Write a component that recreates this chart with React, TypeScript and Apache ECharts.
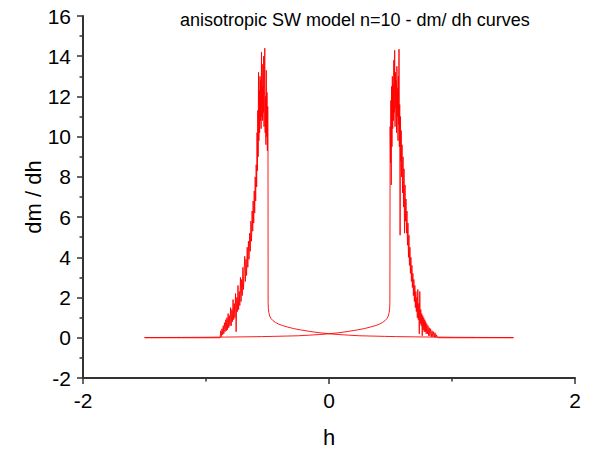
import React, { useEffect, useRef } from "react";
import * as echarts from "echarts";

// Branch A: baseline, noisy rise to the left peak, drop, decaying tail to the right
const branchABaseline: number[][] = [
  [-1.5, 0.0], [-1.2, 0.0], [-1.0, 0.0], [-0.886, 0.0],
];
const branchANoise: number[][] = [
  [-0.880, 0.35], [-0.876, 0.05], [-0.870, 0.45], [-0.865, 0.15], [-0.860, 0.6], [-0.855, 0.2],
  [-0.850, 0.75], [-0.845, 0.3], [-0.840, 0.9], [-0.835, 0.35], [-0.830, 1.0], [-0.825, 0.4],
  [-0.820, 1.2], [-0.815, 0.5], [-0.810, 1.1], [-0.805, 0.6], [-0.800, 1.5], [-0.795, 0.6],
  [-0.790, 1.4], [-0.785, 0.8], [-0.780, 1.9], [-0.775, 0.9], [-0.770, 1.7], [-0.765, 1.0],
  [-0.760, 2.2], [-0.755, 0.3], [-0.750, 2.0], [-0.745, 1.3], [-0.740, 2.6], [-0.735, 1.4],
  [-0.730, 2.3], [-0.725, 1.6], [-0.720, 3.0], [-0.715, 1.8], [-0.710, 2.9], [-0.705, 2.1],
  [-0.700, 3.5], [-0.695, 2.4], [-0.690, 3.3], [-0.685, 4.05], [-0.680, 2.8], [-0.675, 3.9],
  [-0.670, 3.1], [-0.665, 4.5], [-0.660, 3.5], [-0.655, 4.8], [-0.650, 3.9], [-0.645, 5.2],
  [-0.640, 4.3], [-0.635, 5.8], [-0.630, 4.8], [-0.625, 6.3], [-0.620, 5.3], [-0.617, 6.8],
  [-0.612, 5.7], [-0.608, 7.3], [-0.604, 6.2], [-0.600, 8.0], [-0.596, 6.8], [-0.592, 8.6],
  [-0.588, 7.5], [-0.585, 10.2], [-0.582, 8.3], [-0.579, 11.3], [-0.576, 9.0], [-0.573, 13.2],
  [-0.570, 9.8], [-0.567, 12.3], [-0.564, 10.2], [-0.561, 13.0], [-0.558, 10.8], [-0.555, 12.8],
  [-0.552, 10.4], [-0.549, 14.2], [-0.546, 11.0], [-0.543, 13.6], [-0.540, 10.8], [-0.537, 12.5],
  [-0.534, 11.2], [-0.531, 14.0], [-0.528, 10.5], [-0.525, 13.0], [-0.522, 14.4], [-0.519, 10.2],
  [-0.516, 12.0], [-0.513, 9.6], [-0.510, 13.3], [-0.507, 10.0], [-0.504, 12.2], [-0.501, 9.3],
  [-0.498, 11.5], [-0.496, 10.0],
];
const branchATail: number[][] = [
  [-0.495, 1.75], [-0.493, 1.45], [-0.489, 1.25], [-0.482, 1.08], [-0.470, 0.95], [-0.455, 0.85],
  [-0.435, 0.76], [-0.410, 0.68], [-0.380, 0.61], [-0.340, 0.54], [-0.290, 0.46], [-0.230, 0.39],
  [-0.160, 0.32], [-0.080, 0.25], [0.0, 0.2], [0.08, 0.16], [0.16, 0.13], [0.25, 0.1],
  [0.35, 0.085], [0.45, 0.07], [0.55, 0.058], [0.70, 0.045], [0.85, 0.035], [1.0, 0.025],
  [1.2, 0.018], [1.5, 0.01],
];

// Branch B: decaying tail on the left, drop, noisy peak on the right, baseline
const branchBTail: number[][] = [
  [-1.5, 0.01], [-1.2, 0.018], [-1.0, 0.025], [-0.85, 0.035], [-0.70, 0.045], [-0.55, 0.058],
  [-0.45, 0.07], [-0.35, 0.085], [-0.25, 0.1], [-0.16, 0.13], [-0.08, 0.16], [0.0, 0.2],
  [0.08, 0.25], [0.16, 0.32], [0.23, 0.39], [0.29, 0.46], [0.34, 0.54], [0.38, 0.61],
  [0.41, 0.68], [0.435, 0.76], [0.455, 0.85], [0.47, 0.95], [0.482, 1.08], [0.489, 1.25],
  [0.493, 1.45], [0.495, 1.75],
];
const branchBNoise: number[][] = [
  [0.497, 10.5], [0.500, 8.7], [0.503, 11.8], [0.506, 7.6], [0.509, 12.5], [0.512, 9.5],
  [0.515, 13.0], [0.518, 10.4], [0.521, 12.6], [0.524, 10.8], [0.527, 13.8], [0.530, 11.2],
  [0.534, 14.3], [0.537, 10.5], [0.540, 13.2], [0.543, 11.4], [0.546, 12.8], [0.549, 10.2],
  [0.552, 13.5], [0.555, 11.0], [0.558, 12.4], [0.561, 9.8], [0.564, 13.0], [0.567, 10.6],
  [0.569, 14.35], [0.572, 9.5], [0.575, 11.6], [0.578, 5.1], [0.581, 11.0], [0.584, 8.8],
  [0.587, 10.3], [0.590, 8.0], [0.594, 9.6], [0.598, 7.2], [0.602, 9.0], [0.606, 6.5],
  [0.610, 8.4], [0.614, 5.2], [0.618, 7.6], [0.622, 5.8], [0.626, 6.9], [0.630, 5.2],
  [0.634, 6.3], [0.638, 4.6], [0.642, 5.7], [0.646, 4.0], [0.650, 5.1], [0.654, 3.6],
  [0.658, 4.5], [0.662, 3.2], [0.666, 4.0], [0.670, 2.8], [0.674, 3.6], [0.678, 2.5],
  [0.682, 3.2], [0.686, 2.1], [0.690, 2.9], [0.694, 1.8], [0.698, 2.6], [0.702, 1.5],
  [0.706, 2.3], [0.710, 1.3], [0.714, 2.0], [0.718, 1.0], [0.722, 2.4], [0.726, 0.9],
  [0.730, 1.7], [0.734, 0.2], [0.738, 2.3], [0.742, 0.7], [0.746, 1.4], [0.750, 0.6],
  [0.754, 1.2], [0.758, 0.1], [0.762, 1.1], [0.766, 0.4], [0.770, 1.0], [0.774, 0.3],
  [0.778, 0.9], [0.782, 0.3], [0.786, 0.8], [0.790, 0.2], [0.795, 0.7], [0.800, 0.2],
  [0.805, 0.6], [0.810, 0.1], [0.815, 0.5], [0.820, 0.1], [0.826, 0.45], [0.832, 0.05],
  [0.838, 0.35], [0.844, 0.05], [0.850, 0.3], [0.856, 0.03], [0.862, 0.25], [0.868, 0.02],
  [0.874, 0.15], [0.880, 0.02],
];
const branchBBaseline: number[][] = [
  [0.886, 0.0], [1.0, 0.0], [1.2, 0.0], [1.5, 0.0],
];

const titleText = "anisotropic SW model n=10 - dm/ dh curves";
const xName = "h";
const yName = "dm / dh";

export default function App() {
  const ref = useRef<HTMLDivElement>(null);
  useEffect(() => {
    if (!ref.current) return;
    const chart = echarts.init(ref.current, undefined, { renderer: "svg" });
    const font = "Arial, 'Liberation Sans', sans-serif";
    const axisColor = "#333333";
    const lineStyle = { color: "#ff0000", width: 0.9 };
    chart.setOption({
      animation: false,
      backgroundColor: "#ffffff",
      title: {
        text: titleText,
        left: 180,
        top: 11,
        padding: 0,
        textStyle: { fontFamily: font, fontSize: 18, fontWeight: "normal", color: "#000" },
      },
      grid: { left: 83, right: 23, top: 16, bottom: 74 },
      xAxis: {
        type: "value",
        min: -2,
        max: 2,
        interval: 2,
        name: xName,
        nameLocation: "middle",
        nameGap: 48,
        nameMoveOverlap: false,
        nameTextStyle: { fontFamily: font, fontSize: 22, color: "#000" },
        axisLine: { show: true, onZero: false, lineStyle: { color: axisColor, width: 2 } },
        axisTick: { show: true, inside: false, length: 6, lineStyle: { color: axisColor, width: 1.5 } },
        minorTick: { show: true, splitNumber: 2, length: 3.5, lineStyle: { color: axisColor, width: 1.5 } },
        axisLabel: { fontFamily: font, fontSize: 21, color: "#000", margin: 12 },
        splitLine: { show: false },
      },
      yAxis: {
        type: "value",
        min: -2,
        max: 16,
        interval: 2,
        name: yName,
        nameLocation: "middle",
        nameGap: 50,
        nameRotate: 90,
        nameMoveOverlap: false,
        nameTextStyle: { fontFamily: font, fontSize: 22, color: "#000", verticalAlign: "middle" },
        axisLine: { show: true, onZero: false, lineStyle: { color: axisColor, width: 2 } },
        axisTick: { show: true, inside: false, length: 6, lineStyle: { color: axisColor, width: 1.5 } },
        minorTick: { show: true, splitNumber: 2, length: 3.5, lineStyle: { color: axisColor, width: 1.5 } },
        axisLabel: { fontFamily: font, fontSize: 21, color: "#000", margin: 12 },
        splitLine: { show: false },
      },
      series: [
        {
          type: "line",
          data: [...branchABaseline, ...branchANoise, ...branchATail],
          showSymbol: false,
          lineStyle,
          silent: true,
        },
        {
          type: "line",
          data: [...branchBTail, ...branchBNoise, ...branchBBaseline],
          showSymbol: false,
          lineStyle,
          silent: true,
        },
      ],
    });
    return () => chart.dispose();
  }, []);
  return <div ref={ref} style={{ width: 598, height: 453, position: "absolute", left: 0, top: 0 }} />;
}
